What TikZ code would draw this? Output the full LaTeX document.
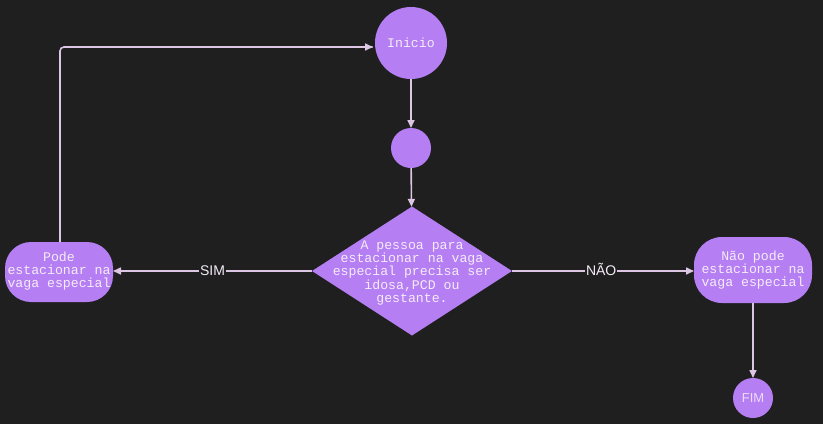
\documentclass[tikz,border=0pt]{standalone}
\usepackage{fontspec}
\setmainfont{Liberation Sans}
\newfontfamily\monof{Liberation Mono}
\usetikzlibrary{shapes.geometric,arrows.meta}
\definecolor{bg}{HTML}{1F1F1F}
\definecolor{purp}{HTML}{B57EF3}
\definecolor{edge}{HTML}{DCC6E4}
\definecolor{txt}{HTML}{F4ECF8}
\begin{document}
\begin{tikzpicture}[x=1pt,y=-1pt,
  every node/.style={inner sep=0pt,outer sep=0pt},
  mono/.style={font=\monof\fontsize{13.2}{13.4}\selectfont,text=txt,align=center},
  circ/.style={circle,fill=purp},
  conn/.style={draw=edge,line width=1.6pt,-{Triangle[length=8pt,width=7pt]}},
  lbl/.style={fill=bg,text=txt,font=\fontsize{14}{14}\selectfont,inner sep=1pt,text height=10pt,text depth=2pt}
]
\useasboundingbox[fill=bg] (0,0) rectangle (823,424);
\node[circ,minimum size=72pt,mono] (ini) at (411,43) {Inicio};
\node[circ,minimum size=40pt] (mid) at (411,148) {};
\node[diamond,fill=purp,minimum width=200pt,minimum height=129pt,aspect=1.55] (dec) at (412,271) {};
\node[mono] at (412,273) {A pessoa para\\estacionar na vaga\\especial precisa ser\\idosa,PCD ou\\gestante.};
\node[rectangle,rounded corners=26pt,fill=purp,minimum width=108pt,minimum height=60pt] (yes) at (59,272) {};
\node[mono] at (59,271) {Pode\\estacionar na\\vaga especial};
\node[rectangle,rounded corners=28pt,fill=purp,minimum width=118pt,minimum height=66pt] (no) at (753,270) {};
\node[mono] at (753,270) {Não pode\\estacionar na\\vaga especial};
\node[circ,minimum size=40pt,text=txt!85!purp,font=\fontsize{13}{13}\selectfont] (fim) at (753,398) {FIM};
\coordinate (c1) at (60,47);
\draw[conn] (ini) -- (mid);
\draw[conn] (mid) -- (dec);
\draw[conn] (dec.west) -- node[lbl,pos=0.5]{SIM} (yes.east |- dec.west);
\draw[conn] (dec.east) -- node[lbl,pos=0.49]{NÃO} (no.west |- dec.east);
\draw[conn] (no) -- (fim);
\draw[conn,rounded corners=4pt] (yes.north -| c1) -- (c1) -- (ini.west |- c1) -- ++(-2,0);
\end{tikzpicture}
\end{document}
